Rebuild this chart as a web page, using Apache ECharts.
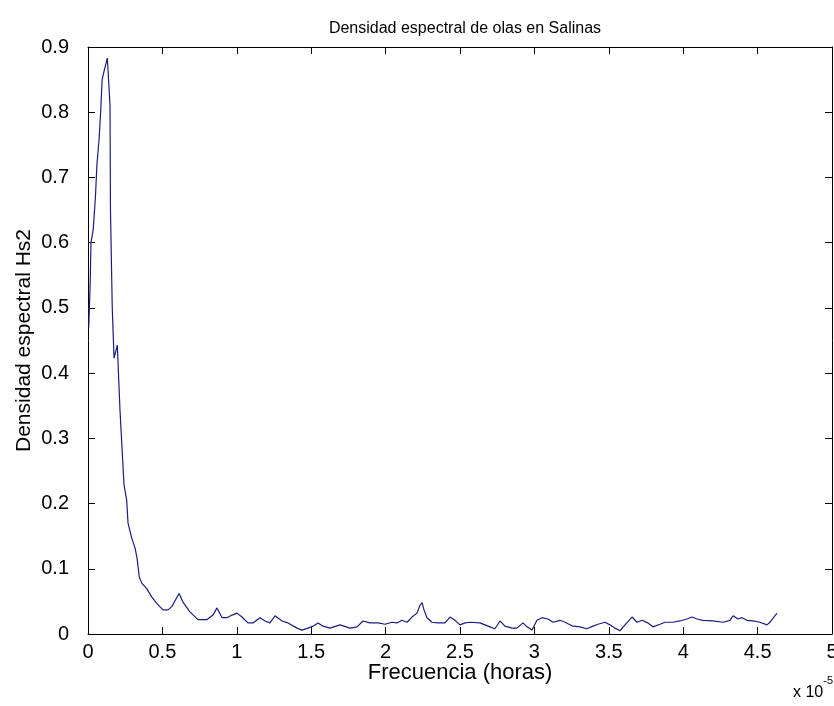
<!DOCTYPE html>
<html>
<head>
<meta charset="utf-8">
<script src="https://cdn.jsdelivr.net/npm/echarts@6/dist/echarts.min.js"></script>
<style>
html,body{margin:0;padding:0;background:#fff;}
#chart{width:834px;height:706px;}
</style>
</head>
<body>
<div id="chart"></div>
<script>
// Frequency (x 10^-5, horas) and spectral density values
var freq = [0.005,0.015,0.02,0.035,0.05,0.06,0.075,0.085,0.095,0.11,0.13,0.148,0.151,0.163,0.175,0.197,0.215,0.231,0.242,0.26,0.269,0.294,0.316,0.329,0.345,0.361,0.394,0.428,0.462,0.504,0.538,0.563,0.612,0.638,0.685,0.739,0.798,0.84,0.867,0.901,0.934,0.968,1.001,1.035,1.075,1.109,1.156,1.19,1.223,1.257,1.304,1.344,1.405,1.438,1.478,1.512,1.546,1.579,1.626,1.694,1.761,1.808,1.848,1.895,1.949,1.996,2.043,2.077,2.11,2.144,2.177,2.211,2.231,2.245,2.258,2.278,2.312,2.352,2.399,2.433,2.466,2.5,2.534,2.567,2.634,2.702,2.735,2.769,2.802,2.849,2.883,2.923,2.95,2.984,3.017,3.051,3.091,3.125,3.172,3.206,3.259,3.306,3.353,3.394,3.427,3.474,3.508,3.542,3.575,3.609,3.656,3.69,3.723,3.763,3.797,3.844,3.878,3.931,3.978,4.025,4.059,4.093,4.133,4.2,4.267,4.315,4.335,4.368,4.395,4.429,4.469,4.516,4.563,4.583,4.617,4.63];
var density = [0.47,0.54,0.60,0.62,0.67,0.72,0.76,0.80,0.85,0.865,0.883,0.81,0.65,0.50,0.423,0.443,0.343,0.275,0.229,0.205,0.17,0.147,0.132,0.117,0.087,0.078,0.07,0.057,0.047,0.037,0.037,0.042,0.062,0.049,0.034,0.022,0.022,0.029,0.04,0.025,0.025,0.029,0.032,0.026,0.017,0.017,0.025,0.02,0.017,0.028,0.02,0.017,0.009,0.006,0.009,0.012,0.017,0.012,0.009,0.014,0.009,0.011,0.02,0.017,0.017,0.015,0.018,0.017,0.021,0.018,0.026,0.032,0.044,0.048,0.037,0.025,0.018,0.017,0.017,0.026,0.021,0.014,0.017,0.018,0.017,0.011,0.008,0.02,0.012,0.009,0.009,0.017,0.011,0.006,0.021,0.025,0.023,0.018,0.021,0.018,0.012,0.011,0.008,0.012,0.015,0.018,0.014,0.009,0.005,0.014,0.026,0.018,0.021,0.017,0.011,0.015,0.018,0.018,0.02,0.023,0.026,0.023,0.021,0.02,0.018,0.021,0.028,0.023,0.025,0.021,0.02,0.018,0.014,0.018,0.028,0.032];
var xTicks = ['0','0.5','1','1.5','2','2.5','3','3.5','4','4.5','5'];
var yTicks = ['0','0.1','0.2','0.3','0.4','0.5','0.6','0.7','0.8','0.9'];

var seriesData = freq.map(function(f, i){ return [f, density[i]]; });
var FONT = 'Liberation Sans, Arial, sans-serif';
var axisCommon = {
  axisLine:{show:true, onZero:false, lineStyle:{color:'#000', width:1}},
  axisTick:{show:true, inside:true, length:7, lineStyle:{color:'#000', width:1}},
  splitLine:{show:false}
};
var chart = echarts.init(document.getElementById('chart'), null, {renderer:'canvas'});
chart.setOption({
  backgroundColor:'#fff',
  animation:false,
  title:{
    text:'Densidad espectral de olas en Salinas',
    left:460, top:16, textAlign:'center',
    textStyle:{fontFamily:FONT, fontSize:16, fontWeight:'normal', color:'#000'}
  },
  grid:{left:88, right:2, top:47, bottom:72, containLabel:false, outerBoundsMode:'none'},
  xAxis:[
    Object.assign({
      type:'value', position:'bottom', min:0, max:5, interval:0.5,
      name:'Frecuencia (horas)', nameLocation:'middle', nameGap:28, nameMoveOverlap:false,
      nameTextStyle:{fontFamily:FONT, fontSize:22, color:'#000'},
      axisLabel:{show:true, margin:8, fontFamily:FONT, fontSize:20, color:'#000',
        formatter:function(v){ var i = Math.round(v/0.5); return xTicks[i]; }}
    }, axisCommon),
    Object.assign({
      type:'value', position:'top', min:0, max:5, interval:0.5,
      axisLabel:{show:false}
    }, axisCommon)
  ],
  yAxis:[
    Object.assign({
      type:'value', position:'left', min:0, max:0.9, interval:0.1,
      name:'Densidad espectral Hs2', nameLocation:'middle', nameGap:53, nameRotate:90, nameMoveOverlap:false,
      nameTextStyle:{fontFamily:FONT, fontSize:21, color:'#000'},
      axisLabel:{show:true, margin:19, fontFamily:FONT, fontSize:20, color:'#000',
        formatter:function(v){ var i = Math.round(v/0.1); return yTicks[i]; }}
    }, axisCommon),
    Object.assign({
      type:'value', position:'right', min:0, max:0.9, interval:0.1,
      axisLabel:{show:false}
    }, axisCommon)
  ],
  graphic:[{
    type:'text', left:793, top:675,
    style:{
      text:'{b|x 10}{s|-5}',
      rich:{
        b:{fontFamily:FONT, fontSize:16, color:'#000', verticalAlign:'bottom', padding:[10,0,0,0]},
        s:{fontFamily:FONT, fontSize:11, color:'#000', verticalAlign:'top'}
      }
    }
  }],
  series:[{
    type:'line', xAxisIndex:0, yAxisIndex:0,
    data:seriesData, showSymbol:false, symbol:'none',
    lineStyle:{color:'#1c1c80', width:1.2},
    clip:true
  }]
});
</script>
</body>
</html>
